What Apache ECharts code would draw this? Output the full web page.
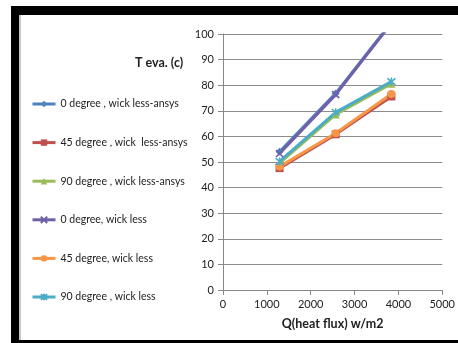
<!DOCTYPE html>
<html>
<head>
<meta charset="utf-8">
<script src="https://cdn.jsdelivr.net/npm/echarts@6/dist/echarts.min.js"></script>
<style>
  html, body { margin: 0; padding: 0; background: #fff; }
  #chart { width: 458px; height: 343px; }
</style>
</head>
<body>
<div id="chart"></div>
<script>
// Heat flux (W/m2) at each test point
const heatFlux = [1290, 2570, 3840];

// Evaporator temperature (C)
const deg0Ansys  = [54.0, 76.8, 104.5];
const deg45Ansys = [47.6, 60.8, 75.6];
const deg90Ansys = [49.6, 68.6, 80.6];
const deg0Exp    = [53.3, 76.3, 104.2];
const deg45Exp   = [48.2, 61.2, 76.6];
const deg90Exp   = [50.2, 69.4, 81.4];

const seriesNames = [
  '0 degree , wick less-ansys',
  '45 degree , wick  less-ansys',
  '90 degree , wick less-ansys',
  '0 degree, wick less',
  '45 degree, wick less',
  '90 degree , wick less'
];

const yTicks = [0, 10, 20, 30, 40, 50, 60, 70, 80, 90, 100];
const xTicks = [0, 1000, 2000, 3000, 4000, 5000];

const FONT = 'Lato, "Liberation Sans", sans-serif';

const crossPath = 'path://M0,0L10,10M10,0L0,10';
const starPath = 'path://M0,0L10,10M10,0L0,10M5,-1L5,11';

function pairs(ys) { return heatFlux.map((x, i) => [x, ys[i]]); }

function lineSeries(name, ys, color, symbol, size, stroked) {
  return {
    name: name,
    type: 'line',
    data: pairs(ys),
    symbol: symbol,
    symbolSize: size,
    clip: true,
    lineStyle: { color: color, width: 3 },
    itemStyle: stroked
      ? { color: color, borderColor: color, borderWidth: 1.6 }
      : { color: color },
    emphasis: { disabled: true },
    z: 2
  };
}

const chart = echarts.init(document.getElementById('chart'), null, { renderer: 'canvas' });

chart.setOption({
  animation: false,
  backgroundColor: '#ffffff',
  title: {
    text: 'T eva. (c)',
    left: 130,
    top: 51,
    textStyle: { fontFamily: FONT, fontSize: 12.5, fontWeight: 'bold', color: '#222' }
  },
  legend: {
    orient: 'vertical',
    left: 26,
    top: 92,
    itemWidth: 23,
    itemHeight: 8,
    itemGap: 24.6,
    data: seriesNames,
    lineStyle: { width: 3 },
    textStyle: { fontFamily: FONT, fontSize: 10.5, color: '#222', lineHeight: 14 }
  },
  grid: { left: 223, right: 13, top: 34, bottom: 53, containLabel: false },
  xAxis: {
    type: 'value',
    min: xTicks[0],
    max: xTicks[xTicks.length - 1],
    interval: 1000,
    name: 'Q(heat flux) w/m2',
    nameLocation: 'middle',
    nameGap: 27,
    nameTextStyle: { fontFamily: FONT, fontSize: 12.5, fontWeight: 'bold', color: '#222' },
    axisLine: { show: true, lineStyle: { color: '#888' } },
    axisTick: { show: true, length: 5, lineStyle: { color: '#888' } },
    axisLabel: { fontFamily: FONT, fontSize: 11, color: '#222', margin: 9, formatter: v => String(v) },
    splitLine: { show: false }
  },
  yAxis: {
    type: 'value',
    min: yTicks[0],
    max: yTicks[yTicks.length - 1],
    interval: 10,
    axisLine: { show: true, lineStyle: { color: '#888' } },
    axisTick: { show: true, length: 5, inside: false, lineStyle: { color: '#888' } },
    axisLabel: { fontFamily: FONT, fontSize: 11, color: '#222', margin: 9, formatter: v => String(v) },
    splitLine: { show: true, lineStyle: { color: '#8c8c8c', width: 1 } }
  },
  series: [
    lineSeries(seriesNames[0], deg0Ansys, '#4F81BD', 'diamond', 8, false),
    lineSeries(seriesNames[1], deg45Ansys, '#C0504D', 'rect', 8, false),
    lineSeries(seriesNames[2], deg90Ansys, '#9BBB59', 'triangle', 8, false),
    lineSeries(seriesNames[3], deg0Exp, '#7060A8', crossPath, 7, true),
    lineSeries(seriesNames[4], deg45Exp, '#F79646', 'circle', 8, false),
    lineSeries(seriesNames[5], deg90Exp, '#4BACC6', starPath, 8, true)
  ],
  graphic: [
    { type: 'rect', shape: { x: 11, y: 6, width: 447, height: 9 }, style: { fill: '#000' }, silent: true, z: 100 },
    { type: 'rect', shape: { x: 11, y: 6, width: 8, height: 337 }, style: { fill: '#000' }, silent: true, z: 100 },
    { type: 'rect', shape: { x: 11, y: 340, width: 447, height: 3 }, style: { fill: '#000' }, silent: true, z: 100 },
    { type: 'rect', shape: { x: 19, y: 15, width: 2, height: 325 }, style: { fill: '#c8c8c8' }, silent: true, z: 100 }
  ]
});
</script>
</body>
</html>
